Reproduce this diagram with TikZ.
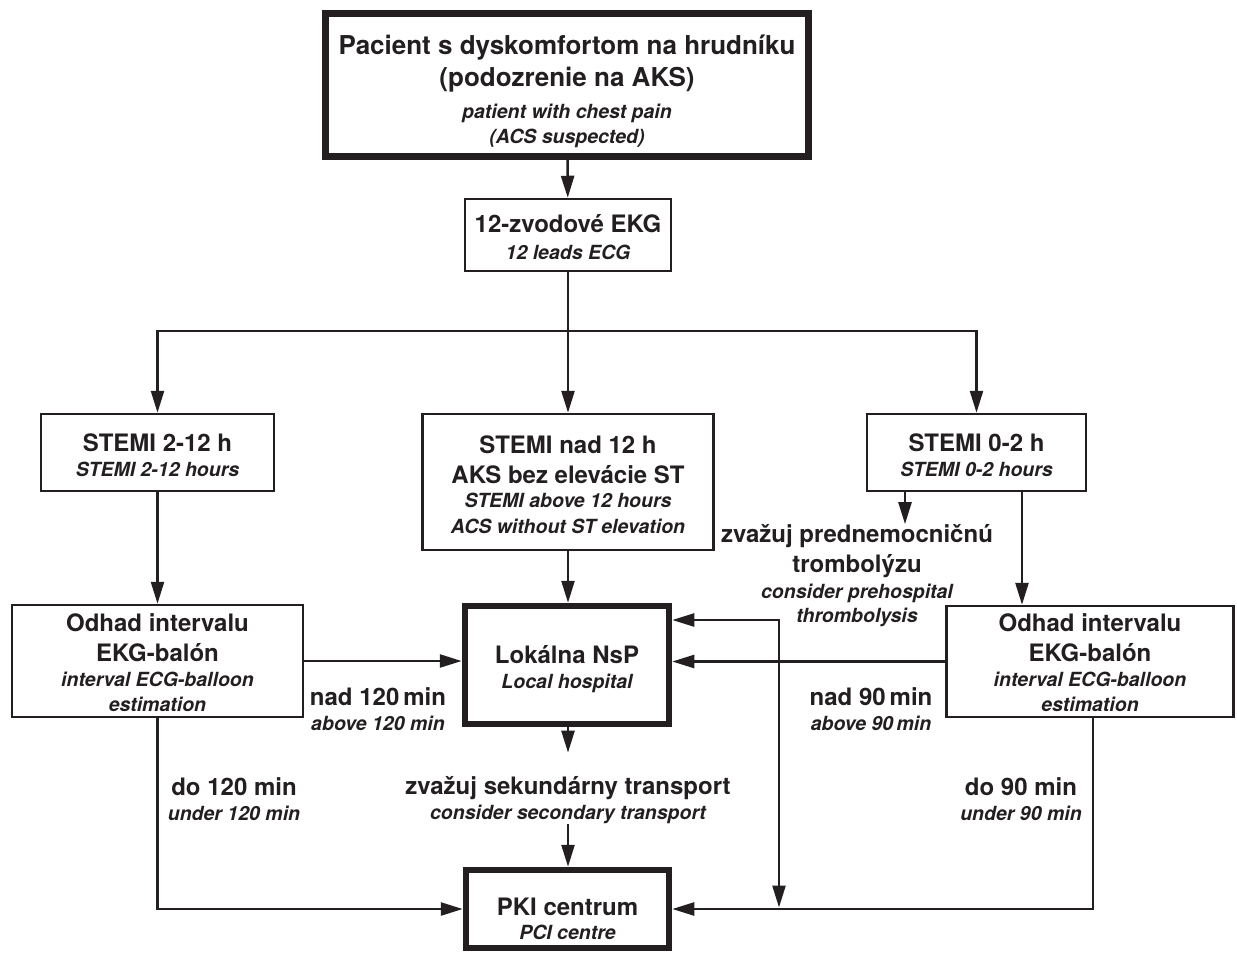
\documentclass[tikz,border=0pt]{standalone}
\usepackage{fontspec}
\setmainfont{TeX Gyre Heros}
\usetikzlibrary{arrows.meta}
\usetikzlibrary{calc}
\definecolor{ink}{HTML}{231F20}
\newcommand{\eng}{\itshape\fontsize{19.5}{25}\selectfont}
\newcommand{\head}{\fontsize{26}{32}\selectfont}
\newcommand{\hi}[1]{\rule{0pt}{#1pt}}
\newcommand{\lo}{\rule[-6pt]{0pt}{6pt}}
\tikzstyle{box}=[draw=ink,line width=2.5pt,inner sep=0pt,align=center,text=ink,font=\bfseries\fontsize{24}{30}\selectfont]
\tikzstyle{thickbox}=[box,line width=6.5pt]
\tikzstyle{note}=[inner sep=0pt,align=center,text=ink,font=\bfseries\fontsize{24}{30}\selectfont]
\tikzstyle{flow} = [draw=ink,line width=2.5pt,-{Triangle[length=22pt,width=13pt]}]
\tikzstyle{twoway} = [draw=ink,line width=2.5pt,{Triangle[length=22pt,width=13pt]}-{Triangle[length=22pt,width=13pt]}]

\begin{document}
\begin{tikzpicture}[x=1pt,y=-1pt]
\useasboundingbox (0,0) rectangle (1237,954);

    % First we draw the boxes
    \foreach \pos/\name/\w/\h/\txt in {{(568,235)/ekg/206/72/{\hi{27}12-zvodové EKG\\[-3pt]{\eng 12 leads ECG\lo}}},
        {(157.5,452.5)/s212/233/77/{\hi{28}STEMI 2-12 h\\[-5pt]{\eng STEMI 2-12 hours\lo}}},
        {(568,482)/smid/291/136/{\hi{28}STEMI nad 12 h\\AKS bez elevácie ST\\[-6pt]{\eng STEMI above 12 hours}\\[-4pt]{\eng ACS without ST elevation\lo}}},
        {(976.5,452.5)/s02/219/77/{\hi{28}STEMI 0-2 h\\[-5pt]{\eng STEMI 0-2 hours\lo}}},
        {(157.5,661)/odl/291/108/{\hi{26}Odhad intervalu\\EKG-balón\\[-5pt]{\eng interval ECG-balloon}\\[-5pt]{\eng estimation\lo}}},
        {(1090,661.5)/odr/287/107/{\hi{25}Odhad intervalu\\EKG-balón\\[-5pt]{\eng interval ECG-balloon}\\[-5pt]{\eng estimation\lo}}}}
        \node[box,minimum width=\w pt,minimum height=\h pt] (\name) at \pos {\txt};

    \foreach \pos/\name/\w/\h/\txt in {{(567,85)/pac/483/143/{{\head\hi{33}Pacient s dyskomfortom na hrudníku}\\[2pt]{\head (podozrenie na AKS)}\\[2pt]{\eng patient with chest pain}\\[-5pt]{\eng (ACS suspected)\lo}}},
        {(567,665)/lok/204/118/{\hi{27}Lokálna NsP\\[-5pt]{\eng Local hospital\lo}}},
        {(567.5,909)/pki/203/78/{\hi{42}PKI centrum\\[-6pt]{\eng PCI centre\lo}}}}
        \node[thickbox,minimum width=\w pt,minimum height=\h pt] (\name) at \pos {\txt};

    % Texts along the connectors
    \foreach \pos/\name/\txt in {{(857,575.5)/thr/{zvažuj prednemocničnú\\trombolýzu\\[-4pt]{\eng consider prehospital}\\[-6pt]{\eng thrombolysis}}},
        {(568,800.5)/sek/{zvažuj sekundárny transport\\[-5pt]{\eng consider secondary transport}}},
        {(378,709)/n120/{nad 120\,min\\[-5pt]{\eng above 120 min}}},
        {(234,799)/d120/{do 120 min\\[-5pt]{\eng under 120 min}}},
        {(871,709)/n90/{nad 90\,min\\[-5pt]{\eng above 90\,min}}},
        {(1021,799)/d90/{do 90 min\\[-5pt]{\eng under 90 min}}}}
        \node[note] (\name) at \pos {\txt};

    \coordinate (split) at (568,331);
    \coordinate (drop) at (779,907.5);

    % Connect boxes with arrows
    \draw[flow] (pac) -- (ekg);
    \draw[flow] (ekg) -- (smid);
    \foreach \dest in {s212, s02}
        \draw[flow] (split) -| (\dest);
    \draw[flow] (s212) -- (odl);
    \draw[flow] (smid.south) -- (smid.south |- lok.north);
    \draw[flow] ([xshift=-71.5pt]s02.south) -- ([xshift=-71.5pt]s02.south |- thr.north);
    \draw[flow] ([xshift=45.5pt]s02.south) -- ([xshift=45.5pt]s02.south |- odr.north);
    \draw[flow] (odl.east) -- (odl.east -| lok.west);
    \draw[flow] (odr.west) -- (odr.west -| lok.east);
    \draw[twoway] ([yshift=45pt]lok.east) -| (drop);
    \draw[flow, shorten >=24pt] (lok.south -| sek.north) -- (sek.north);
    \draw[flow] (sek.south) -- (sek.south |- pki.north);
    \draw[flow] (odl.south) |- (pki.west);
    \draw[flow] ([xshift=3pt]odr.south) |- (pki.east);

\end{tikzpicture}
\end{document}
